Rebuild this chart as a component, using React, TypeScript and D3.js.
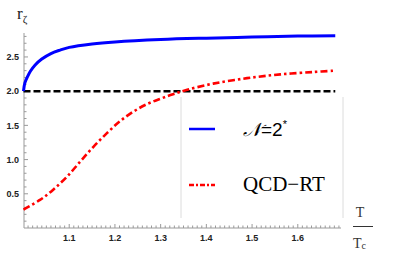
import React from 'react';
import * as d3 from 'd3';

const W = 415;
const H = 260;

// N=2* curve
const n2T = [1.0, 1.003, 1.008, 1.015, 1.025, 1.04, 1.06, 1.08, 1.1, 1.15, 1.2, 1.3, 1.4, 1.5, 1.6, 1.682];
const n2R = [2.0, 2.12, 2.2, 2.29, 2.38, 2.47, 2.55, 2.6, 2.64, 2.69, 2.72, 2.755, 2.775, 2.79, 2.805, 2.81];

// QCD-RT curve
const qcdT = [1.0, 1.036, 1.065, 1.095, 1.124, 1.152, 1.183, 1.211, 1.24, 1.27, 1.3, 1.327, 1.358, 1.415, 1.489, 1.562, 1.634, 1.682];
const qcdR = [0.27, 0.41, 0.56, 0.75, 0.97, 1.18, 1.39, 1.56, 1.7, 1.81, 1.89, 1.955, 2.02, 2.11, 2.19, 2.245, 2.28, 2.3];

const refLevel = 2.0;
const xTicks = [1.1, 1.2, 1.3, 1.4, 1.5, 1.6];
const yTicks = [0.5, 1.0, 1.5, 2.0, 2.5];

export default function App() {
  const x = d3.scaleLinear().domain([1, 1.7]).range([23.5, 343.5]);
  const y = d3.scaleLinear().domain([0, 2.85]).range([228, 33]);

  const line = d3.line<[number, number]>()
    .x(d => x(d[0]))
    .y(d => y(d[1]))
    .curve(d3.curveCatmullRom.alpha(0.5));

  const n2 = n2T.map((t, i) => [t, n2R[i]] as [number, number]);
  const qcd = qcdT.map((t, i) => [t, qcdR[i]] as [number, number]);

  const xMinor = d3.range(101, 170).map(v => v / 100).filter(v => Math.round(v * 100) % 10 !== 0);
  const yMinor = d3.range(1, 29).map(v => v / 10).filter(v => Math.round(v * 10) % 5 !== 0);

  const axisColor = '#9a9a9a';
  const tickFont = '"Liberation Sans", Arial, sans-serif';

  return (
    <svg width={W} height={H} style={{ position: 'absolute', left: 0, top: 0, background: '#fff' }}>
      {/* axes */}
      <line x1={24} x2={341} y1={228} y2={228} stroke={axisColor} strokeWidth={1} />
      <line x1={24} x2={24} y1={33} y2={228} stroke={axisColor} strokeWidth={1} />

      {xMinor.map(v => (
        <line key={'xm' + v} x1={x(v)} x2={x(v)} y1={228} y2={225.5} stroke={axisColor} />
      ))}
      {xTicks.map(v => (
        <g key={'xt' + v}>
          <line x1={x(v)} x2={x(v)} y1={228} y2={224} stroke={axisColor} />
          <text x={x(v)} y={240.5} textAnchor="middle" fontSize={9} fontWeight="bold" fontFamily={tickFont} fill="#222">
            {d3.format('.1f')(v)}
          </text>
        </g>
      ))}

      {yMinor.map(v => (
        <line key={'ym' + v} x1={24} x2={26.5} y1={y(v)} y2={y(v)} stroke={axisColor} />
      ))}
      {yTicks.map(v => (
        <g key={'yt' + v}>
          <line x1={24} x2={28} y1={y(v)} y2={y(v)} stroke={axisColor} />
          <text x={19} y={y(v) + 3.3} textAnchor="end" fontSize={9} fontWeight="bold" fontFamily={tickFont} fill="#222">
            {d3.format('.1f')(v)}
          </text>
        </g>
      ))}

      {/* legend frame */}
      <line x1={181} x2={181} y1={97} y2={218} stroke="#dcdcdc" />
      <line x1={343} x2={343} y1={97} y2={218} stroke="#dcdcdc" />

      {/* curves */}
      <line x1={x(1.0)} x2={x(1.682)} y1={y(refLevel)} y2={y(refLevel)} stroke="#000" strokeWidth={2.5} strokeDasharray="7,3" />
      <path d={line(qcd) || ''} fill="none" stroke="#ff0000" strokeWidth={2.6} strokeDasharray="7,3,2.5,3" />
      <path d={line(n2) || ''} fill="none" stroke="#0000ff" strokeWidth={3} />

      {/* legend */}
      <line x1={189} x2={215} y1={129} y2={129} stroke="#0000ff" strokeWidth={2.5} />
      <text x={243} y={136} fontSize={19} fontFamily='"Liberation Sans", Arial, sans-serif' fill="#000">
        <tspan fontFamily='"DejaVu Serif", "Liberation Serif", serif' fontStyle="italic">𝒩</tspan>
        <tspan>=2</tspan>
        <tspan fontSize={11} dy={-8}>*</tspan>
      </text>
      <line x1={189} x2={215} y1={185} y2={185} stroke="#ff0000" strokeWidth={2.5} strokeDasharray="5,2,2,2" />
      <text x={243} y={191} fontSize={21} fontFamily='"Liberation Serif", "Times New Roman", serif' fill="#000">
        QCD−RT
      </text>

      {/* axis labels */}
      <text x={17} y={19} fontSize={17} fontFamily='"Liberation Serif", serif' fill="#222">
        r<tspan fontSize={11} dy={4}>ζ</tspan>
      </text>
      <text x={360} y={217} textAnchor="middle" fontSize={14} fontFamily='"Liberation Serif", serif' fill="#333">T</text>
      <line x1={353} x2={373} y1={226.5} y2={226.5} stroke="#333" strokeWidth={1} />
      <text x={353} y={248} fontSize={14} fontFamily='"Liberation Serif", serif' fill="#333">
        T<tspan fontSize={10} dy={1}>c</tspan>
      </text>
    </svg>
  );
}
